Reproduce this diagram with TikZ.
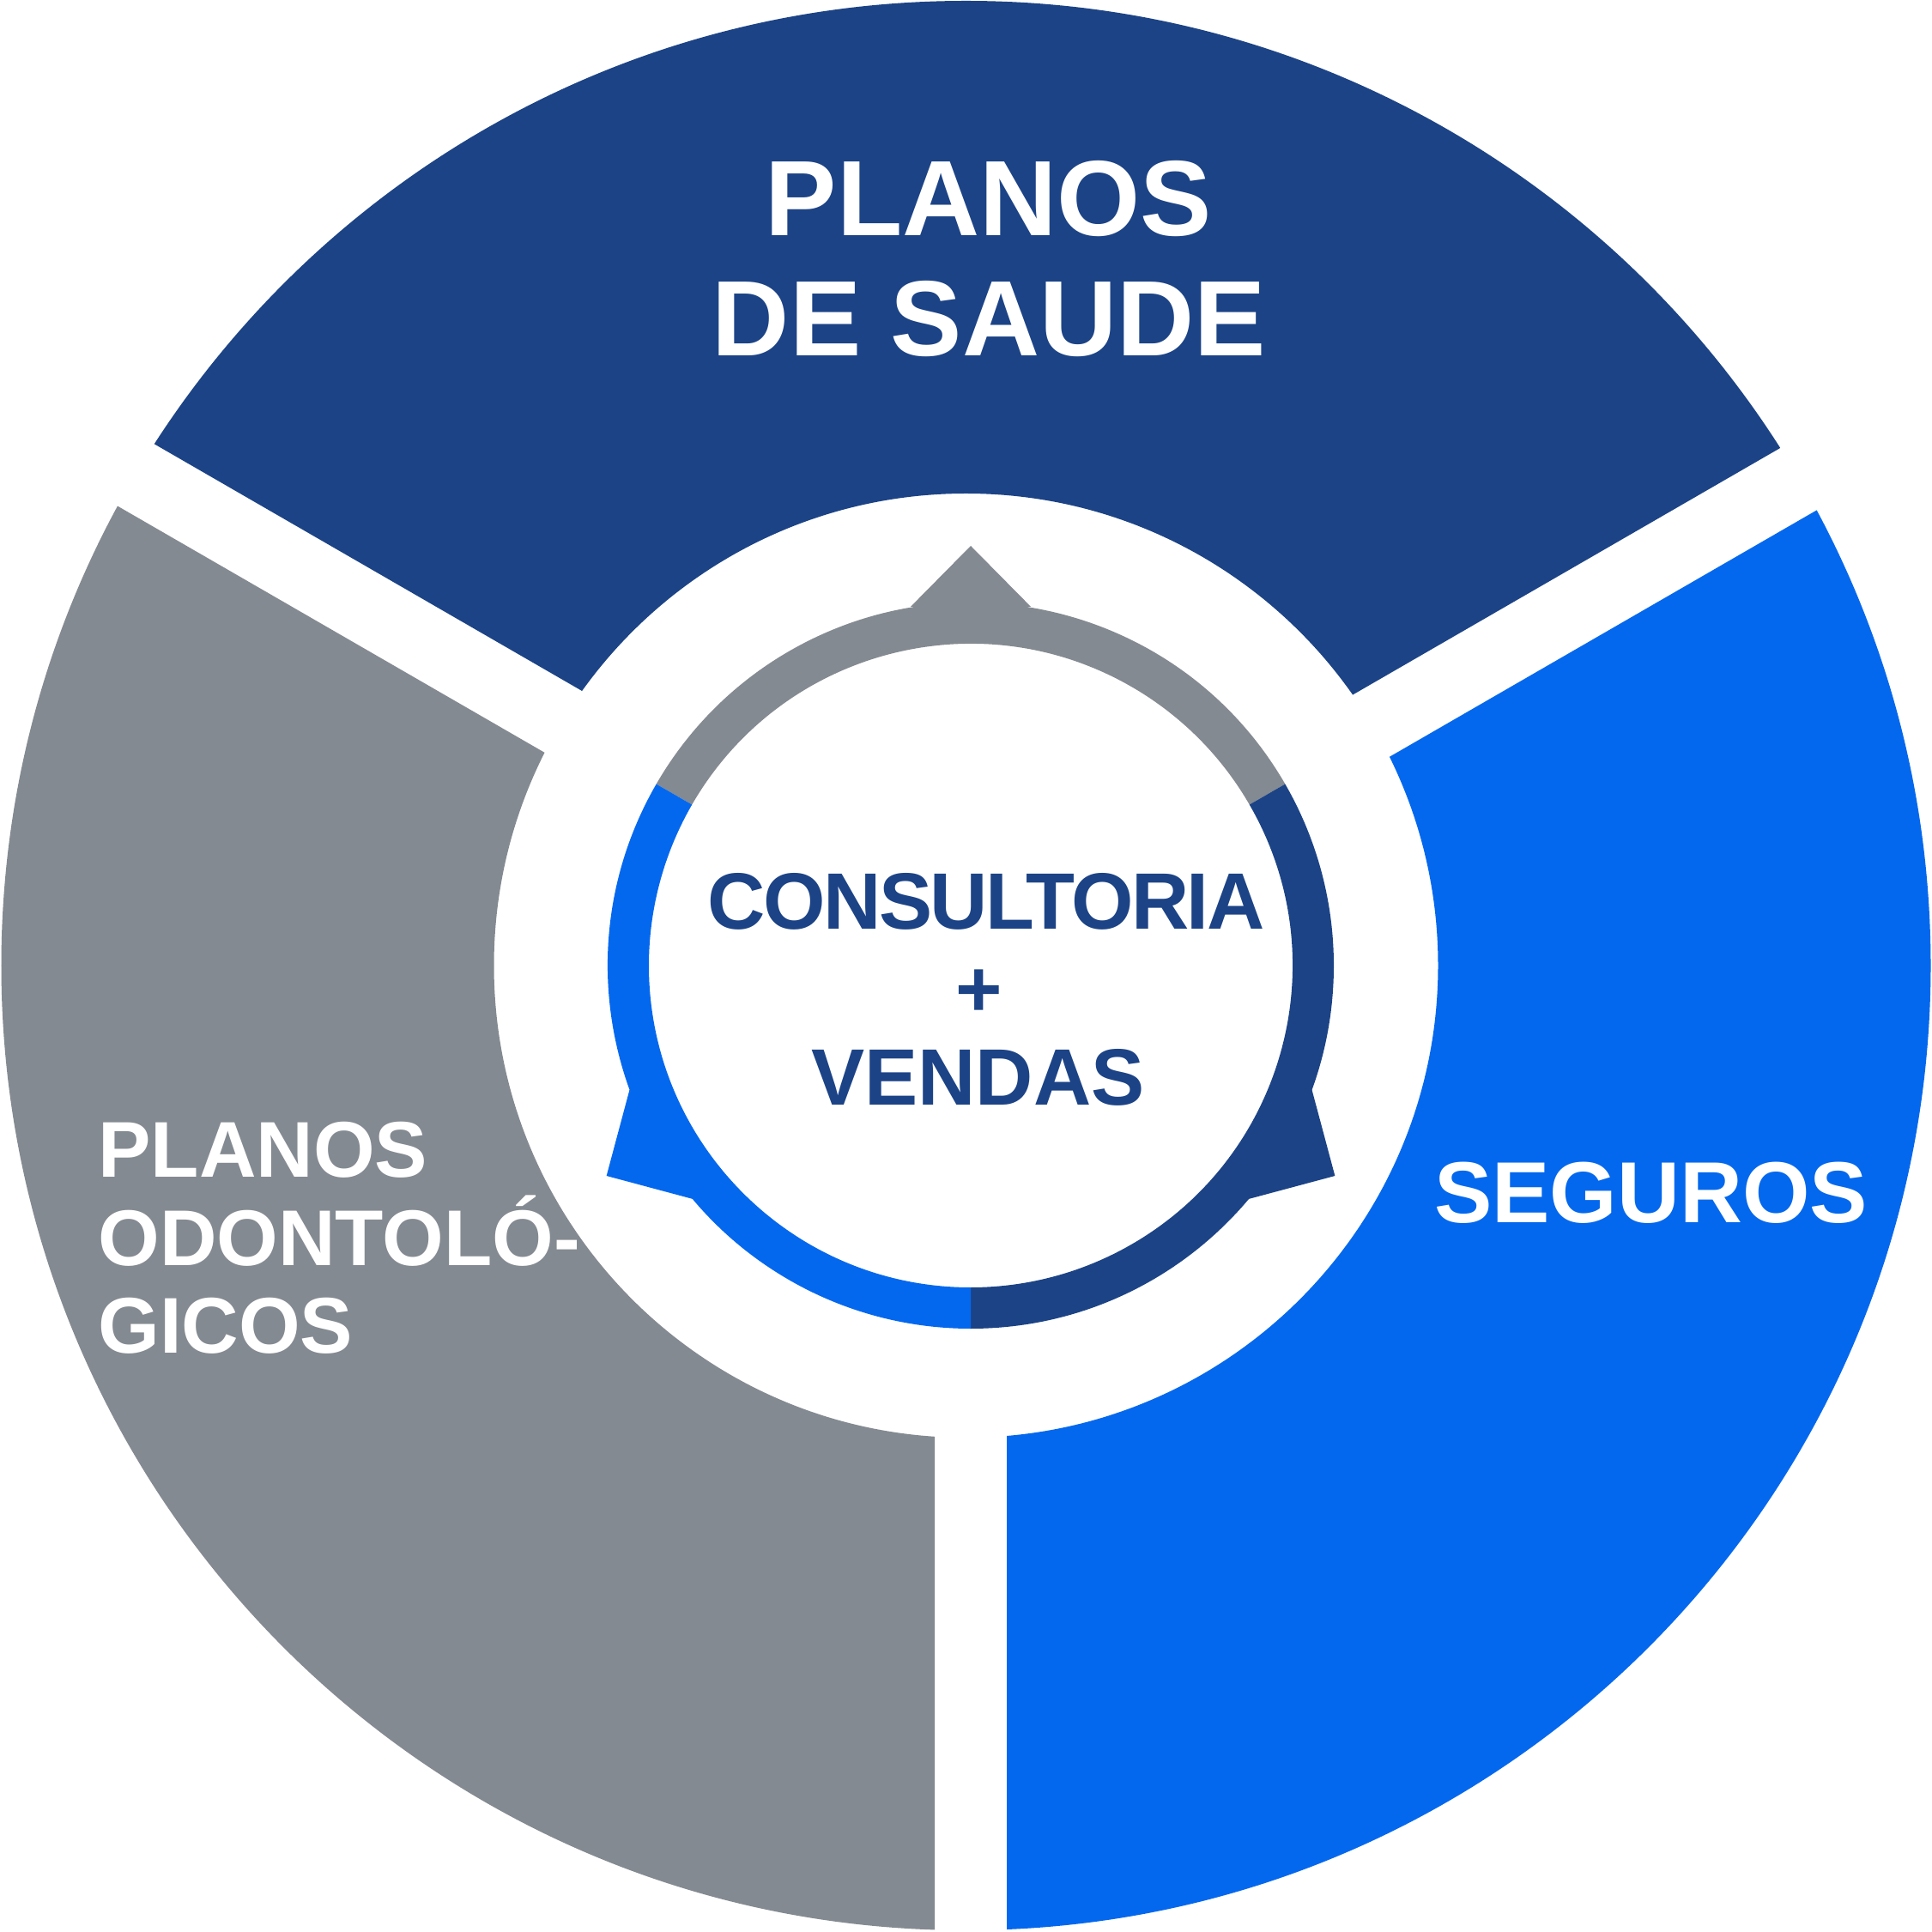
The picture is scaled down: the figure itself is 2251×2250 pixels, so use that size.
\documentclass[tikz,border=0pt]{standalone}
\usepackage{fontspec}
\setmainfont{Liberation Sans}
\newfontfamily\tightfont[LetterSpace=-2.8]{Liberation Sans}
\usetikzlibrary{calc}
\definecolor{dkblue}{RGB}{28,67,134}
\definecolor{brblue}{RGB}{4,104,238}
\definecolor{sgray}{RGB}{132,138,145}
\begin{document}
\begin{tikzpicture}[x=0.01cm,y=0.01cm,
  lbl/.style={inner sep=0pt, outer sep=0pt, font=\bfseries},
  bigtxt/.style={lbl, text=white, font=\bfseries\fontsize{35.5}{40}\selectfont},
  segtxt/.style={lbl, text=white, font=\bfseries\fontsize{28.7}{32}\selectfont},
  lefttxt/.style={lbl, text=white, font=\bfseries\fontsize{26.2}{29}\selectfont},
  ctrtxt/.style={lbl, text=dkblue, font=\bfseries\fontsize{26.5}{29}\selectfont}]
\useasboundingbox (0,0) rectangle (2251,2250);
\coordinate (C0) at (1125.5,1125);
\coordinate (B) at (1131,1135);
\coordinate (C1) at (1131,1125);
\coordinate (Pt) at ($(B)+(90:48.5)$);
\coordinate (Pr) at ($(B)+(-30:48.5)$);
\coordinate (Pl) at ($(B)+(210:48.5)$);

% outer segmented ring
\begin{scope}
  \clip (Pt) -- ($(Pt)+(150:3000)$) -- ($(Pt)+(90:3000)$) -- ($(Pt)+(30:3000)$) -- cycle;
  \fill[dkblue, even odd rule] (C0) circle[radius=1124] (C0) circle[radius=550];
\end{scope}
\begin{scope}
  \clip (Pr) -- ($(Pr)+(30:3000)$) -- ($(Pr)+(-30:3000)$) -- ($(Pr)+(-90:3000)$) -- cycle;
  \fill[brblue, even odd rule] (C0) circle[radius=1124] (C0) circle[radius=550];
\end{scope}
\begin{scope}
  \clip (Pl) -- ($(Pl)+(150:3000)$) -- ($(Pl)+(210:3000)$) -- ($(Pl)+(270:3000)$) -- cycle;
  \fill[sgray, even odd rule] (C0) circle[radius=1124] (C0) circle[radius=550];
\end{scope}

% inner ring with arrowheads
\fill[sgray] ([shift={(C1)}]30:423) arc[start angle=30,end angle=150,radius=423]
  -- ([shift={(C1)}]150:375) arc[start angle=150,end angle=30,radius=375] -- cycle;
\fill[sgray] ([shift={(C1)}]80.5:424) -- ([shift={(C1)}]90:489) -- ([shift={(C1)}]99.5:424) -- cycle;

\fill[dkblue] ([shift={(C1)}]-90:423) arc[start angle=-90,end angle=30,radius=423]
  -- ([shift={(C1)}]30:375) arc[start angle=30,end angle=-90,radius=375] -- cycle;
\fill[dkblue] ([shift={(C1)}]-40:423) -- ([shift={(C1)}]-30:490) -- ([shift={(C1)}]-20:423) -- cycle;

\fill[brblue] ([shift={(C1)}]150:423) arc[start angle=150,end angle=270,radius=423]
  -- ([shift={(C1)}]270:375) arc[start angle=270,end angle=150,radius=375] -- cycle;
\fill[brblue] ([shift={(C1)}]200:423) -- ([shift={(C1)}]210:490) -- ([shift={(C1)}]220:423) -- cycle;

% texts
\node[bigtxt, anchor=base] (t1) at (1152,1975.8) {PLANOS};
\node[bigtxt, anchor=base] (t2) at (1152.5,1835) {DE SAUDE};
\node[segtxt, anchor=base] (t3) at (1923.5,826) {SEGUROS};
\node[lefttxt, anchor=base west] (t4) at (114.5,878.3) {PLANOS};
\node[lefttxt, anchor=base west] (t5) at (114.5,776) {ODONTOLÓ-};
\node[lefttxt, anchor=base west] (t6) at (114.5,673.3) {GICOS};
\node[ctrtxt, anchor=base] (c1) at (1149,1167.7) {\tightfont\bfseries CONSULTORIA};
\node[ctrtxt, anchor=base] (c2) at (1141,1065) {+};
\node[ctrtxt, anchor=base] (c3) at (1139.4,962.7) {VENDAS};
\end{tikzpicture}
\end{document}
